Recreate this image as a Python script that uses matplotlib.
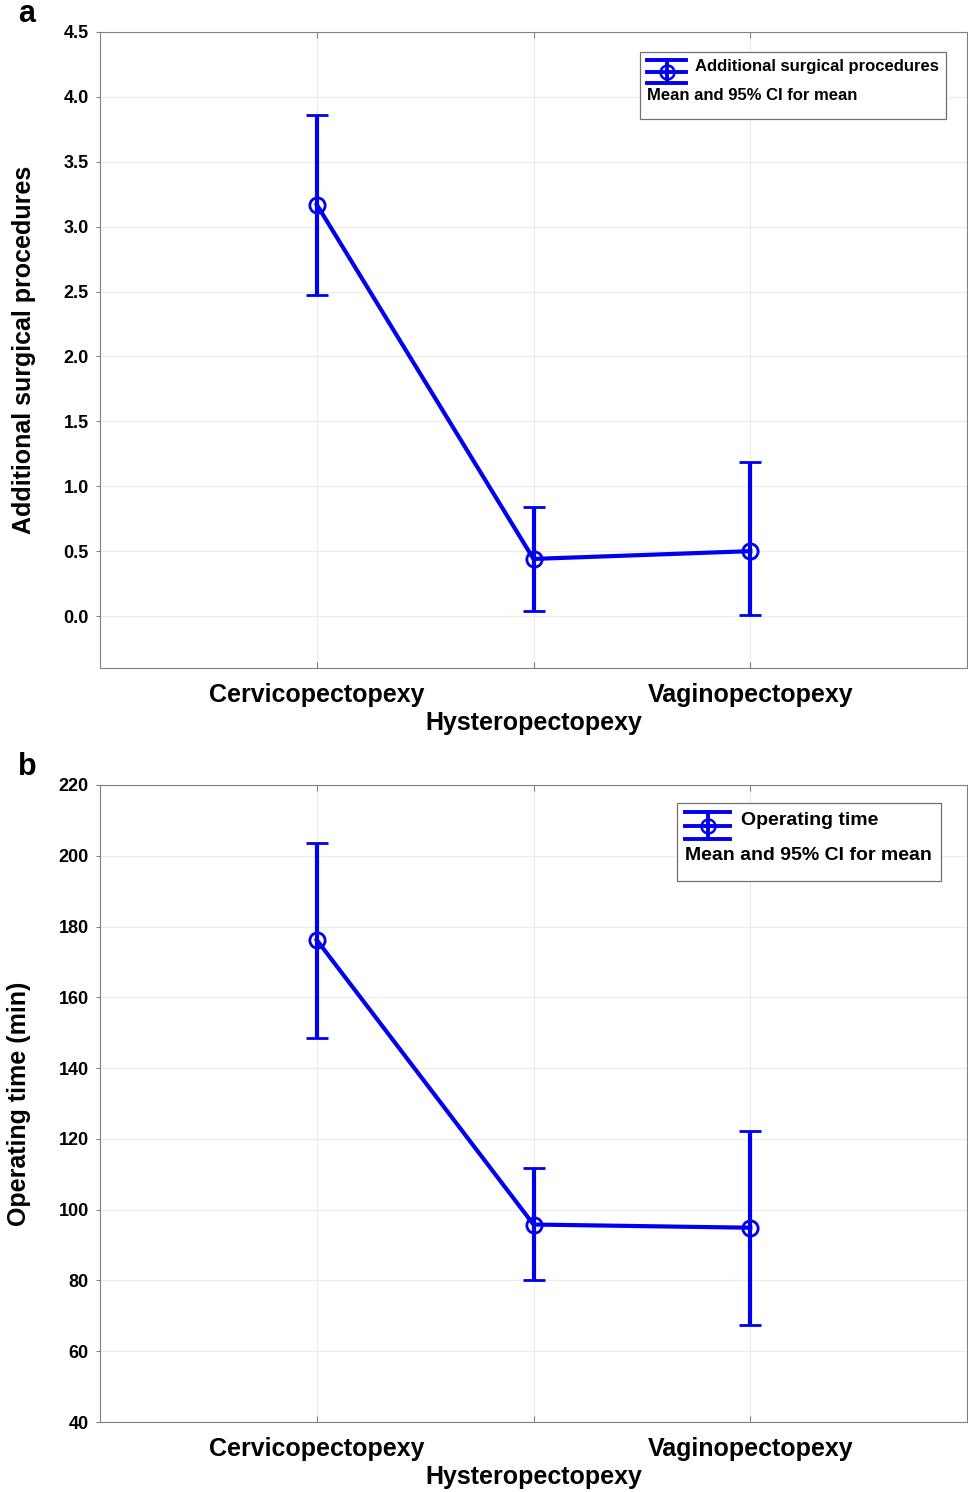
import numpy as np
import matplotlib.pyplot as plt
from matplotlib.lines import Line2D
from matplotlib.legend_handler import HandlerBase
from matplotlib.offsetbox import VPacker, DrawingArea
plt.switch_backend('agg')

plt.rcParams['font.family'] = ['Liberation Sans', 'DejaVu Sans']
plt.rcParams['font.weight'] = 'bold'

groups = ['Cervicopectopexy', 'Hysteropectopexy', 'Vaginopectopexy']

# panel a: additional surgical procedures
proc_mean = [3.17, 0.44, 0.50]
proc_low = [2.47, 0.04, 0.01]
proc_high = [3.86, 0.84, 1.19]

# panel b: operating time (min)
time_mean = [176.2, 95.8, 94.9]
time_low = [148.5, 80.0, 67.3]
time_high = [203.6, 111.8, 122.3]

BLUE = '#0000ee'


class HandlerCI(HandlerBase):
    # icon: two long caps, middle line with circle, vertical bar
    def create_artists(self, legend, orig_handle, xdescent, ydescent,
                       width, height, fontsize, trans):
        x0, x1 = -xdescent, -xdescent + width
        xm = (x0 + x1) / 2
        ym = -ydescent - 0.05 * height
        yb, yt = ym - 1.0 * height, ym + 1.0 * height
        arts = [
            Line2D([x0, x1], [yt, yt], color=BLUE, lw=2.8),
            Line2D([x0, x1], [yb, yb], color=BLUE, lw=2.8),
            Line2D([x0, x1], [ym, ym], color=BLUE, lw=2.8),
            Line2D([xm, xm], [yb, yt], color=BLUE, lw=2.8),
            Line2D([xm], [ym], color=BLUE, marker='o', mfc='none',
                   mew=1.8, ms=10, lw=0),
        ]
        for a in arts:
            a.set_transform(trans)
        return arts


def draw_panel(ax, mean, low, high, ylabel, ylim, yticks, fmt, letter,
               leg_label, leg_size, leg_anchor, leg_sep):
    x = np.arange(len(groups))
    mean = np.array(mean)
    err = [mean - np.array(low), np.array(high) - mean]
    ax.errorbar(x, mean, yerr=err, color=BLUE, lw=3, elinewidth=3,
                capsize=8, capthick=3, marker='o', ms=11, mfc='none',
                mew=2, zorder=3)
    ax.set_xlim(-1, 3)
    ax.set_ylim(*ylim)
    ax.set_yticks(yticks)
    ax.set_yticklabels([fmt % v for v in yticks], fontsize=13, fontweight='bold')
    ax.set_xticks(x)
    ax.set_xticklabels([groups[0], '\n' + groups[1], groups[2]],
                       fontsize=18, fontweight='bold', linespacing=1.2)
    ax.grid(True, color='#ececec', lw=0.9)
    ax.set_axisbelow(True)
    for s in ax.spines.values():
        s.set_color('#808080')
    ax.tick_params(axis='y', which='both', direction='out', length=3,
                   color='#808080', right=True, pad=5)
    ax.tick_params(axis='x', direction='in', length=4, color='#808080',
                   top=True, pad=11)
    ax.set_ylabel(ylabel, fontsize=18, fontweight='bold', labelpad=20)
    ax.text(-0.095, 1.005, letter, transform=ax.transAxes, fontsize=22,
            fontweight='bold', va='bottom', ha='left')

    leg = ax.legend(handles=[Line2D([], [])], labels=[leg_label],
                    handler_map={Line2D: HandlerCI()},
                    title='Mean and 95% CI for mean',
                    loc='upper right', bbox_to_anchor=leg_anchor,
                    fancybox=False, framealpha=1, edgecolor='#707070',
                    prop={'size': leg_size, 'weight': 'bold'},
                    title_fontproperties={'size': leg_size, 'weight': 'bold'},
                    alignment='left', handlelength=2.3, handletextpad=0.55,
                    borderpad=0.45, borderaxespad=0)
    leg.get_frame().set_linewidth(0.9)
    # put the title line below the entry, with some empty room under it
    title_box, entry_box = leg._legend_box._children
    bottom = VPacker(children=[title_box, DrawingArea(1, 6)],
                     align='left', pad=0, sep=0)
    leg._legend_box._children = [entry_box, bottom]
    leg._legend_box.sep = leg_sep


fig = plt.figure(figsize=(9.68, 14.92), dpi=100)
ax1 = fig.add_axes([0.1033, 0.5523, 0.8957, 0.4263])
ax2 = fig.add_axes([0.1033, 0.0469, 0.8957, 0.4270])

draw_panel(ax1, proc_mean, proc_low, proc_high, 'Additional surgical procedures',
           (-0.4, 4.5), np.arange(0, 4.51, 0.5), '%.1f', 'a',
           'Additional surgical procedures', 12, (0.976, 0.969), 10)
draw_panel(ax2, time_mean, time_low, time_high, 'Operating time (min)',
           (40, 220), np.arange(40, 221, 20), '%d', 'b',
           'Operating time', 14, (0.970, 0.972), 13)

plt.savefig('out.png', dpi=100)
